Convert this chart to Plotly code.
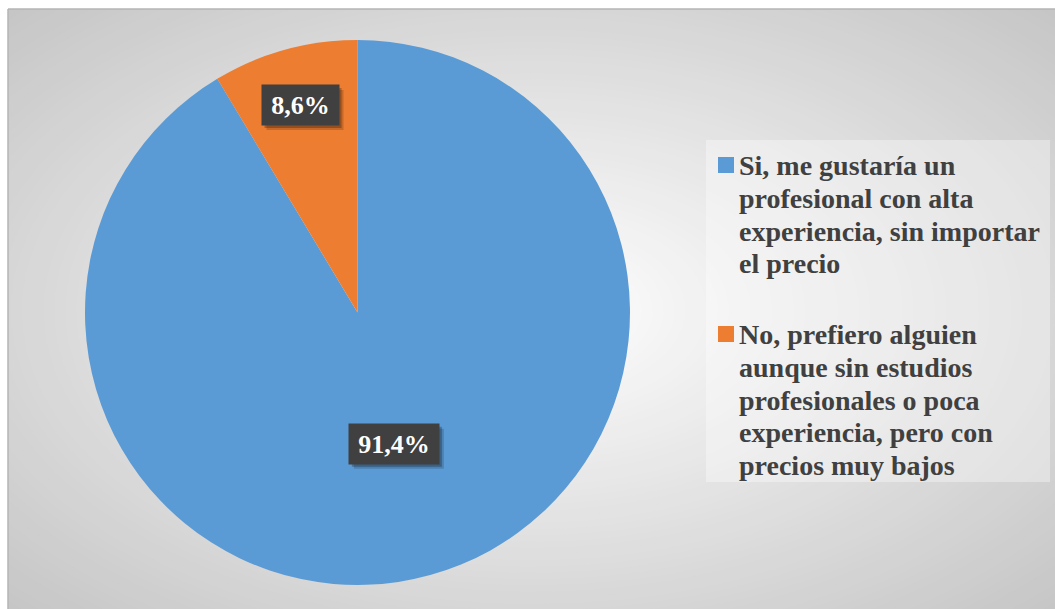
import math
import plotly.graph_objects as go

# ---- data -------------------------------------------------------------
categories = [
    "Si, me gustaría un profesional con alta experiencia, sin importar el precio",
    "No, prefiero alguien aunque sin estudios profesionales o poca experiencia, pero con precios muy bajos",
]
legend_lines = [
    ["Si, me gustaría un", "profesional con alta", "experiencia, sin importar", "el precio"],
    ["No, prefiero alguien", "aunque sin estudios", "profesionales o poca", "experiencia, pero con", "precios muy bajos"],
]
percentages = [91.4, 8.6]
colors = ["#5B9BD5", "#ED7D31"]

# ---- canvas geometry (pixels) ----------------------------------------
W, H = 1055, 609
SERIF = "Liberation Serif, Times New Roman, serif"
TEXT_GRAY = "#404040"


def px(x):
    return x / W


def py(y):
    return 1 - y / H


# pie placement
cx, cy, R = 357.5, 312.5, 272.5

fig = go.Figure()
fig.add_trace(go.Pie(
    labels=categories,
    values=percentages,
    sort=False,
    direction="clockwise",
    rotation=0,
    marker=dict(colors=colors, line=dict(width=0)),
    textinfo="none",
    hoverinfo="label+percent",
    showlegend=False,
    domain=dict(x=[px(cx - R), px(cx + R)], y=[py(cy + R), py(cy - R)]),
))

shapes = []

# radial background gradient inside the chart frame
fx0, fy0, fx1, fy1 = 8, 9, 1058, 612
gcx, gcy = (fx0 + fx1) / 2, (fy0 + fy1) / 2
hw, hh = (fx1 - fx0) / 2, (fy1 - fy0) / 2
shapes.append(dict(type="rect", xref="paper", yref="paper", layer="below",
                   x0=px(fx0), x1=px(fx1 + 5), y0=py(fy1 + 5), y1=py(fy0),
                   fillcolor="#c6c6c6", line=dict(width=0)))
steps = 70
dmax = 1.45
for i in range(steps, 0, -1):
    d = dmax * i / steps
    t = min(d / 1.41, 1.0)
    g = int(round(255 - (255 - 198) * t))
    shapes.append(dict(type="circle", xref="paper", yref="paper", layer="below",
                       x0=px(gcx - d * hw), x1=px(gcx + d * hw),
                       y0=py(gcy + d * hh), y1=py(gcy - d * hh),
                       fillcolor=f"rgb({g},{g},{g})", line=dict(width=0)))
# white outer margin around the frame
shapes.append(dict(type="rect", xref="paper", yref="paper", layer="below",
                   x0=0, x1=1, y0=py(fy0), y1=1, fillcolor="white", line=dict(width=0)))
shapes.append(dict(type="rect", xref="paper", yref="paper", layer="below",
                   x0=0, x1=px(fx0), y0=0, y1=1, fillcolor="white", line=dict(width=0)))
# frame lines
shapes.append(dict(type="line", xref="paper", yref="paper", layer="below",
                   x0=px(fx0), x1=1, y0=py(fy0), y1=py(fy0),
                   line=dict(color="#b4b4b4", width=1.5)))
shapes.append(dict(type="line", xref="paper", yref="paper", layer="below",
                   x0=px(fx0), x1=px(fx0), y0=0, y1=py(fy0),
                   line=dict(color="#b4b4b4", width=1.5)))

# legend panel
shapes.append(dict(type="rect", xref="paper", yref="paper", layer="below",
                   x0=px(706), x1=px(1050), y0=py(482), y1=py(140),
                   fillcolor="rgba(255,255,255,0.35)", line=dict(width=0)))

annotations = []

# data labels placed at each slice's mid-angle, with a soft drop shadow
label_radius = [0.5, 0.79]
label_box_w = [84, 71]
BOX_H = 34
PAD = 3
start = 0.0
total = sum(percentages)
for val, rf, bw in zip(percentages, label_radius, label_box_w):
    mid = start + val / total * 360 / 2
    start += val / total * 360
    ang = math.radians(mid)
    lx = cx + rf * R * math.sin(ang)
    ly = cy - rf * R * math.cos(ang)
    text = f"{val:.1f}%".replace(".", ",")
    half_w = bw / 2 + PAD
    half_h = BOX_H / 2 + PAD
    for off, a in [(5, 0.16), (3, 0.25)]:
        shapes.append(dict(type="rect", xref="paper", yref="paper", layer="above",
                           x0=px(lx - half_w + off), x1=px(lx + half_w + off),
                           y0=py(ly + half_h + off), y1=py(ly - half_h + off),
                           fillcolor=f"rgba(0,0,0,{a})", line=dict(width=0)))
    annotations.append(dict(x=px(lx), y=py(ly), xref="paper", yref="paper", text=text,
                            showarrow=False, xanchor="center", yanchor="middle",
                            width=bw, height=BOX_H, borderpad=PAD,
                            font=dict(family=SERIF, size=26, color="white", weight="bold"),
                            bgcolor="#404040"))

# legend entries, one annotation per text line
LEG_SIZE = 28
LINE_STEP = 32.6
legend_baselines = [173, 342]
for lines, col, base in zip(legend_lines, colors, legend_baselines):
    shapes.append(dict(type="rect", xref="paper", yref="paper",
                       x0=px(718), x1=px(734), y0=py(base), y1=py(base - 16),
                       fillcolor=col, line=dict(width=0)))
    for k, line in enumerate(lines):
        top = base + k * LINE_STEP - 0.88 * LEG_SIZE
        annotations.append(dict(x=px(737), y=py(top), xref="paper", yref="paper",
                                xanchor="left", yanchor="top", align="left",
                                text=line, showarrow=False,
                                font=dict(family=SERIF, size=LEG_SIZE, color=TEXT_GRAY, weight="bold")))

fig.update_layout(
    width=W, height=H,
    margin=dict(l=0, r=0, t=0, b=0),
    paper_bgcolor="white",
    plot_bgcolor="white",
    shapes=shapes,
    annotations=annotations,
    showlegend=False,
)

fig.write_html("out.html")
